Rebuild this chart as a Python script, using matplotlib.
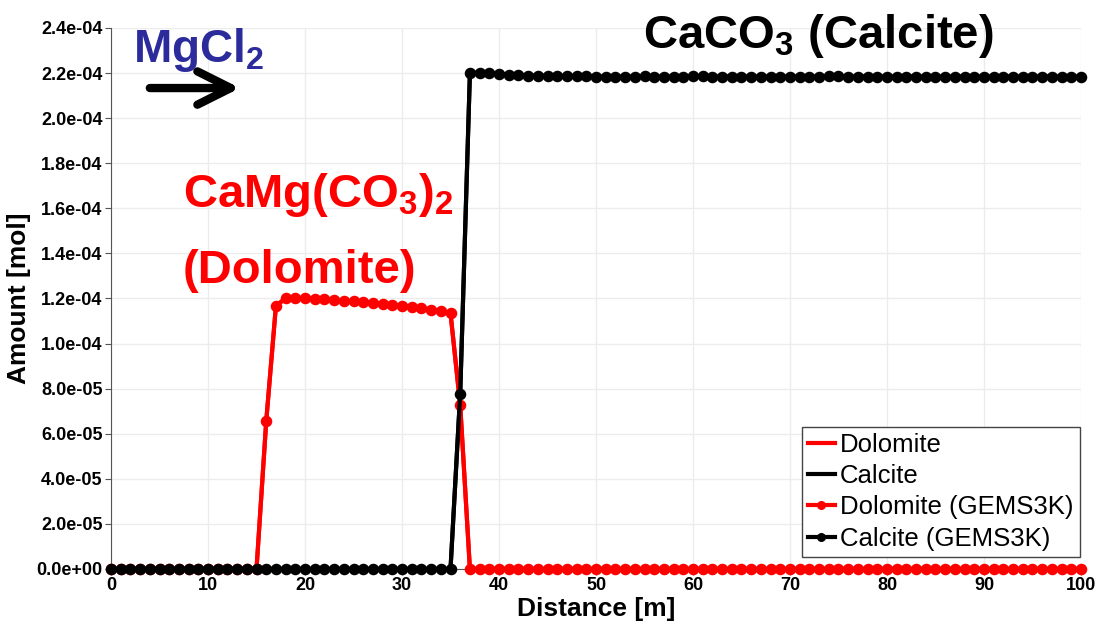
import numpy as np
import matplotlib
matplotlib.use("Agg")
import matplotlib.pyplot as plt
from matplotlib.ticker import FuncFormatter, MultipleLocator

plt.rcParams['font.family'] = ['Liberation Sans', 'DejaVu Sans']
plt.rcParams['mathtext.fontset'] = 'custom'
plt.rcParams['mathtext.rm'] = 'Liberation Sans:bold'
plt.rcParams['mathtext.default'] = 'rm'

# distance nodes [m]
distance = np.arange(0, 101)

# dolomite amount [mol]: zero up to 15 m, plateau 16-36 m, zero after
dolomite = ([0.0] * 16 +
            [6.55e-5, 1.167e-4, 1.201e-4, 1.201e-4, 1.200e-4, 1.198e-4, 1.196e-4,
             1.193e-4, 1.190e-4, 1.187e-4, 1.185e-4, 1.182e-4, 1.177e-4, 1.173e-4,
             1.168e-4, 1.164e-4, 1.158e-4, 1.151e-4, 1.145e-4, 1.135e-4, 7.27e-5] +
            [0.0] * 64)

# calcite amount [mol]: zero up to 35 m, front at 36 m
calcite = ([0.0] * 36 +
           [7.78e-5,
            2.200e-4, 2.201e-4, 2.199e-4, 2.197e-4, 2.193e-4, 2.191e-4, 2.189e-4,
            2.188e-4, 2.187e-4, 2.186e-4, 2.186e-4, 2.185e-4, 2.185e-4,
            2.184e-4, 2.184e-4, 2.184e-4, 2.184e-4, 2.184e-4, 2.185e-4, 2.184e-4,
            2.184e-4, 2.184e-4, 2.184e-4, 2.185e-4, 2.185e-4, 2.184e-4, 2.184e-4,
            2.184e-4, 2.184e-4, 2.184e-4, 2.184e-4, 2.184e-4, 2.184e-4, 2.184e-4,
            2.184e-4, 2.184e-4, 2.184e-4, 2.185e-4, 2.185e-4, 2.184e-4, 2.184e-4,
            2.184e-4, 2.184e-4, 2.184e-4, 2.184e-4, 2.184e-4, 2.184e-4, 2.184e-4,
            2.184e-4, 2.184e-4, 2.184e-4, 2.184e-4, 2.184e-4, 2.184e-4, 2.184e-4,
            2.184e-4, 2.184e-4, 2.184e-4, 2.184e-4, 2.184e-4, 2.184e-4, 2.184e-4,
            2.184e-4, 2.184e-4])

fig = plt.figure(figsize=(10.96, 6.29), dpi=100)
ax = fig.add_axes([0.1013, 0.0954, 0.8850, 0.8601])

ax.plot(distance, dolomite, color='red', lw=3, label='Dolomite')
ax.plot(distance, calcite, color='black', lw=3, label='Calcite')
ax.plot(distance, dolomite, color='red', lw=3, marker='o', ms=7.3,
        label='Dolomite (GEMS3K)', clip_on=False, zorder=3)
ax.plot(distance, calcite, color='black', lw=3, marker='o', ms=7.3,
        label='Calcite (GEMS3K)', clip_on=False, zorder=4)

ax.set_xlim(0, 100)
ax.set_ylim(0, 2.4e-4)
ax.xaxis.set_major_locator(MultipleLocator(10))
ax.yaxis.set_major_locator(MultipleLocator(2e-5))
ax.yaxis.set_major_formatter(FuncFormatter(lambda v, p: '%.1e' % v))
ax.grid(True, color='#ececec', lw=1)
ax.set_axisbelow(True)

for s in ['top', 'right']:
    ax.spines[s].set_visible(False)
for s in ['left', 'bottom']:
    ax.spines[s].set_color('#555555')
ax.tick_params(direction='out', length=4, color='#555555', labelsize=13, pad=2)
for lab in ax.get_xticklabels() + ax.get_yticklabels():
    lab.set_fontweight('bold')

ax.set_xlabel('Distance [m]', fontsize=19, fontweight='bold', labelpad=2)
ax.set_ylabel('Amount [mol]', fontsize=19, fontweight='bold', labelpad=4)

ax.text(0.0227, 0.937, r'MgCl$_2$', transform=ax.transAxes, fontsize=33,
        fontweight='bold', color='#2b2b9c', ha='left', va='baseline')
ax.annotate('', xy=(0.133, 0.889), xytext=(0.040, 0.889), xycoords='axes fraction',
            arrowprops=dict(arrowstyle='->, head_length=2.4, head_width=1.2',
                            lw=6, color='black', mutation_scale=10,
                            shrinkA=0, shrinkB=0, capstyle='round',
                            joinstyle='round'))
ax.text(0.548, 0.963, r'CaCO$_3$ (Calcite)', transform=ax.transAxes, fontsize=34,
        fontweight='bold', color='black', ha='left', va='baseline', clip_on=False)
ax.text(0.0742, 0.669, r'CaMg(CO$_3$)$_2$', transform=ax.transAxes, fontsize=34,
        fontweight='bold', color='red', ha='left', va='baseline')
ax.text(0.0742, 0.529, '(Dolomite)', transform=ax.transAxes, fontsize=34,
        fontweight='bold', color='red', ha='left', va='baseline')

leg = ax.legend(loc='lower right', bbox_to_anchor=(0.999, 0.022), borderaxespad=0,
                fontsize=18.5, fancybox=False, framealpha=1, edgecolor='#444444',
                handlelength=1.05, handletextpad=0.2, labelspacing=0.28,
                borderpad=0.25, numpoints=1, markerscale=0.75)
leg.get_frame().set_linewidth(1)

fig.savefig('out.png', dpi=100)
